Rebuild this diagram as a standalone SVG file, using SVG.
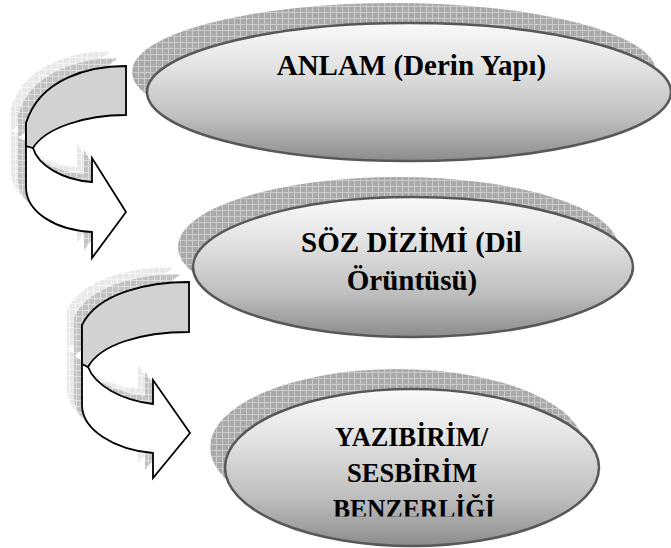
<svg xmlns="http://www.w3.org/2000/svg" width="671" height="548" viewBox="0 0 671 548">
  <defs>
    <pattern id="gridDark" width="6" height="6" patternUnits="userSpaceOnUse">
      <rect width="6" height="6" fill="#a9a9a9"/>
      <path d="M0 0.5H6M0.5 0V6" stroke="#cbcbcb" stroke-width="1"/>
    </pattern>
    <pattern id="gridMid" width="6" height="6" patternUnits="userSpaceOnUse">
      <rect width="6" height="6" fill="#c2c2c2"/>
      <path d="M0 0.5H6M0.5 0V6" stroke="#dedede" stroke-width="1"/>
    </pattern>
    <pattern id="gridLight" width="6" height="6" patternUnits="userSpaceOnUse">
      <rect width="6" height="6" fill="#e8e8e8"/>
      <path d="M0 0.5H6M0.5 0V6" stroke="#f6f6f6" stroke-width="1"/>
    </pattern>
    <linearGradient id="ellFill" x1="0" y1="0" x2="0" y2="1">
      <stop offset="0" stop-color="#f9f9f9"/>
      <stop offset="0.3" stop-color="#e4e4e4"/>
      <stop offset="0.7" stop-color="#bdbdbd"/>
      <stop offset="1" stop-color="#8c8c8c"/>
    </linearGradient>
    <clipPath id="clip3">
      <rect x="0" y="0" width="671" height="516.5"/>
    </clipPath>
    <path id="arrow1" d="M126,66 C90,66 40,78 26,123 L26,187 C26,212 55,230 92,232 L92,258 L126,212 L92,158 L92,182 C62,180 38,165 33,148 L26,146 Z"/>
    <path id="arrow2" d="M189,282 C150,282 98,292 82,325 L82,405 C82,430 115,450 153,453 L153,478 L190,433 L153,380 L153,404 C120,400 95,385 88,367 L82,364 Z"/>
  </defs>
  <style>
    .shadow { fill: url(#gridDark); stroke: none; }
    .ell { fill: url(#ellFill); stroke: #585858; stroke-width: 2.5; }
    .lbl { font-family: "Liberation Serif", "Times New Roman", serif; font-weight: bold; font-size: 29px; fill: #000; text-anchor: middle; }
    .lbl3 { font-family: "Liberation Serif", "Times New Roman", serif; font-weight: bold; font-size: 28px; fill: #000; text-anchor: middle; }
    .shL { fill: url(#gridLight); stroke: none; }
    .shM { fill: url(#gridMid); stroke: none; }
    .band { fill: #d2d2d2; stroke: #000; stroke-width: 1.8; stroke-linejoin: miter; }
    .front { fill: #fff; stroke: #000; stroke-width: 1.8; stroke-linejoin: miter; }
  </style>

  <rect width="671" height="548" fill="#fff"/>

  <g id="connectors">
    <g id="arrow-1">
      <use href="#arrow1" class="shL" transform="translate(-15,-15)"/>
      <use href="#arrow1" class="shM" transform="translate(-8,-8)"/>
      <path class="front" d="M26,123 L26,187 C26,212 55,230 92,232 L92,258 L126,212 L92,158 L92,182 C62,180 38,165 33,148 Z"/>
      <path class="band" d="M126,66 C90,66 40,78 26,123 L26,146 L33,148 C45,128 85,115 126,115 Z"/>
    </g>
    <g id="arrow-2">
      <use href="#arrow2" class="shL" transform="translate(-15,-15)"/>
      <use href="#arrow2" class="shM" transform="translate(-8,-8)"/>
      <path class="front" d="M82,325 L82,405 C82,430 115,450 153,453 L153,478 L190,433 L153,380 L153,404 C120,400 95,385 88,367 Z"/>
      <path class="band" d="M189,282 C150,282 98,292 82,325 L82,364 L88,367 C100,345 140,332 189,332 Z"/>
    </g>
  </g>

  <g id="node-anlam">
    <ellipse class="shadow" cx="394" cy="72" rx="262" ry="69"/>
    <ellipse class="ell" cx="409" cy="92" rx="262" ry="69"/>
    <text class="lbl" x="411.5" y="75">ANLAM (Derin Yapı)</text>
  </g>

  <g id="node-soz">
    <ellipse class="shadow" cx="398" cy="247" rx="220" ry="70"/>
    <ellipse class="ell" cx="413" cy="267" rx="220" ry="70"/>
    <text class="lbl" x="411.5" y="252">SÖZ DİZİMİ (Dil</text>
    <text class="lbl" x="412" y="290">Örüntüsü)</text>
  </g>

  <g id="node-yazi">
    <ellipse class="shadow" cx="397" cy="447.5" rx="187" ry="78.5"/>
    <ellipse class="ell" cx="412" cy="467.5" rx="187" ry="78.5"/>
    <g clip-path="url(#clip3)">
      <text class="lbl3" x="411.5" y="446" textLength="153" lengthAdjust="spacingAndGlyphs">YAZIBİRİM/</text>
      <text class="lbl3" x="412" y="482" textLength="130" lengthAdjust="spacingAndGlyphs">SESBİRİM</text>
      <text class="lbl3" x="414" y="518" textLength="162" lengthAdjust="spacingAndGlyphs">BENZERLİĞİ</text>
    </g>
  </g>
</svg>
